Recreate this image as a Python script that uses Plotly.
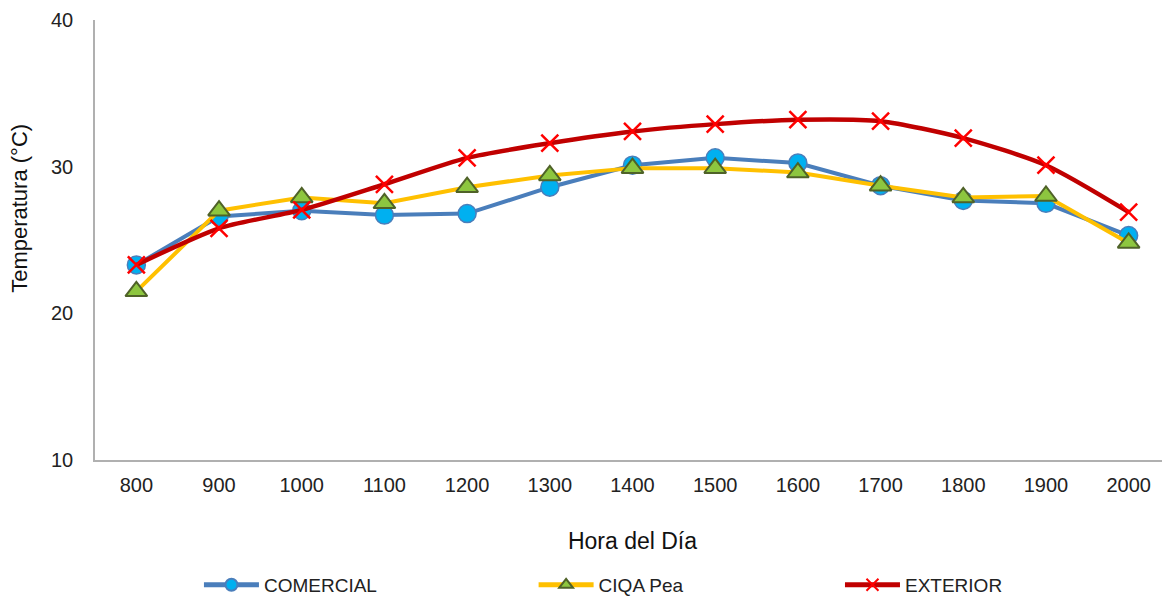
import plotly.graph_objects as go

hours = ["800", "900", "1000", "1100", "1200", "1300", "1400", "1500", "1600", "1700", "1800", "1900", "2000"]
comercial = [23.3, 26.6, 27.0, 26.7, 26.8, 28.6, 30.1, 30.6, 30.25, 28.7, 27.7, 27.5, 25.3]
ciqa_pea = [21.5, 27.0, 27.9, 27.5, 28.6, 29.4, 29.9, 29.9, 29.6, 28.7, 27.9, 28.0, 24.8]
exterior = [23.3, 25.8, 27.05, 28.8, 30.6, 31.6, 32.4, 32.9, 33.2, 33.1, 31.95, 30.1, 26.9]

FONT = "Liberation Sans, Arial, sans-serif"

fig = go.Figure()
fig.add_trace(go.Scatter(
    x=hours, y=comercial, name="COMERCIAL", mode="lines+markers",
    line=dict(color="#4A7EBB", width=4),
    marker=dict(symbol="circle", size=18, color="#00B0F0",
                line=dict(color="#4A7EBB", width=1.5)),
    legend="legend",
))
fig.add_trace(go.Scatter(
    x=hours, y=ciqa_pea, name="CIQA Pea", mode="lines+markers",
    line=dict(color="#FFC000", width=4),
    marker=dict(symbol="triangle-up", size=19, color="#8DC63F",
                line=dict(color="#4F6228", width=2)),
    legend="legend2",
))
fig.add_trace(go.Scatter(
    x=hours, y=exterior, name="EXTERIOR", mode="lines+markers",
    line=dict(color="#C00000", width=4.5, shape="spline", smoothing=0.7),
    marker=dict(symbol="x-thin", size=17, color="#FF0000",
                line=dict(color="#FF0000", width=2.5)),
    legend="legend3",
))

legend_common = dict(
    orientation="h", xanchor="left", yanchor="middle", y=-0.284,
    font=dict(family=FONT, size=19, color="#222222"),
    bgcolor="rgba(0,0,0,0)", itemsizing="constant", itemwidth=55,
)

fig.update_layout(
    width=1162, height=591,
    margin=dict(l=87, r=0, t=12, b=139, autoexpand=False),
    paper_bgcolor="white", plot_bgcolor="white",
    font=dict(family=FONT, size=18, color="#222222"),
    showlegend=True,
    legend=dict(x=0.0967, **legend_common),
    legend2=dict(x=0.408, **legend_common),
    legend3=dict(x=0.693, **legend_common),
    xaxis=dict(
        type="category", range=[-0.5, 12.5], showgrid=False, showline=True,
        linecolor="#B0B0B0", linewidth=1.5, ticks="",
        tickfont=dict(size=20, family=FONT, color="#222222"),
        title=dict(text="Hora del Día", font=dict(size=23, family=FONT, color="#111111"),
                   standoff=38),
        zeroline=False, automargin=False, ticklabelstandoff=6,
    ),
    yaxis=dict(
        range=[10, 40], dtick=10, showgrid=False, showline=True,
        linecolor="#B0B0B0", linewidth=1.5, ticks="",
        tickfont=dict(size=20, family=FONT, color="#222222"),
        zeroline=False, ticklabelstandoff=16, automargin=False,
    ),
    annotations=[dict(
        text="Temperatura (°C)", textangle=-90, xref="paper", yref="paper",
        x=-0.0698, y=0.573, xanchor="center", yanchor="middle", showarrow=False,
        font=dict(size=22, family=FONT, color="#111111"),
    )],
)

fig.write_html("out.html")
